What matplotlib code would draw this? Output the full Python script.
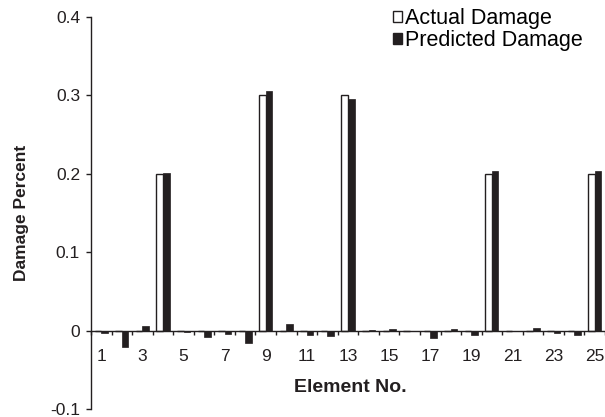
import numpy as np
import matplotlib
matplotlib.use("Agg")
import matplotlib.pyplot as plt
from matplotlib.patches import Patch

plt.rcParams['font.family'] = ['Liberation Sans', 'DejaVu Sans']

elements = list(range(1, 26))
actual_damage = [0, 0, 0, 0.20, 0, 0, 0, 0, 0.30, 0,
                 0, 0, 0.30, 0, 0, 0, 0, 0, 0, 0.20,
                 0, 0, 0, 0, 0.20]
predicted_damage = [-0.003, -0.021, 0.0055, 0.201, -0.002, -0.008, -0.004, -0.016, 0.305, 0.0085,
                    -0.005, -0.007, 0.296, 0.001, 0.002, -0.001, -0.0095, 0.002, -0.0055, 0.203,
                    -0.001, 0.003, -0.003, -0.006, 0.203]
tick_labels = [str(e) for e in elements[::2]]

fig = plt.figure(figsize=(6.05, 4.17), dpi=100)
ax = fig.add_axes([91 / 605, 8 / 417, 514 / 605, 392 / 417])

x = np.array(elements, dtype=float)
w = 0.32
dark = '#231f20'
ax.bar(x - w / 2, actual_damage, width=w, facecolor='white', edgecolor=dark, linewidth=1.0)
ax.bar(x + w / 2, predicted_damage, width=w, facecolor=dark, edgecolor=dark, linewidth=0.5)

ax.set_xlim(0.5, 25.5)
ax.set_ylim(-0.1, 0.4)

for s in ['top', 'right']:
    ax.spines[s].set_visible(False)
ax.spines['bottom'].set_position(('data', 0))
for s in ['left', 'bottom']:
    ax.spines[s].set_linewidth(1.0)
    ax.spines[s].set_color(dark)

ax.set_yticks([-0.1, 0, 0.1, 0.2, 0.3, 0.4])
ax.set_yticklabels(['-0.1', '0', '0.1', '0.2', '0.3', '0.4'])
ax.tick_params(axis='y', direction='out', length=3.6, width=1.0, pad=4.3,
               labelsize=12.5, colors=dark)

# tick marks between categories, labels at odd element centres
ax.set_xticks(np.arange(0.5, 26, 1.0), minor=True)
ax.set_xticks(x[::2])
ax.set_xticklabels(tick_labels)
ax.tick_params(axis='x', which='minor', direction='out', length=3, width=1.0, color=dark)
ax.tick_params(axis='x', which='major', length=0, pad=13.0, labelsize=12.5, labelcolor=dark)

ax.set_ylabel('Damage Percent', fontsize=12.5, fontweight='bold', color=dark)
ax.yaxis.set_label_coords(-62 / 514, 0.5)
ax.text(350 / 605, 1 - 388 / 417, 'Element No.', transform=fig.transFigure,
        ha='center', va='center', fontsize=14, fontweight='bold', color=dark)

handles = [Patch(facecolor='white', edgecolor=dark, linewidth=1.0),
           Patch(facecolor=dark, edgecolor=dark)]
ax.legend(handles, ['Actual Damage', 'Predicted Damage'], loc='upper left',
          bbox_to_anchor=(393 / 605, 1 - 8 / 417), bbox_transform=fig.transFigure,
          frameon=False, fontsize=15.5,
          handlelength=0.42, handleheight=0.42, handletextpad=0.12,
          labelspacing=0.05, borderaxespad=0.0, borderpad=0.0)

fig.savefig('out.png', dpi=100)
